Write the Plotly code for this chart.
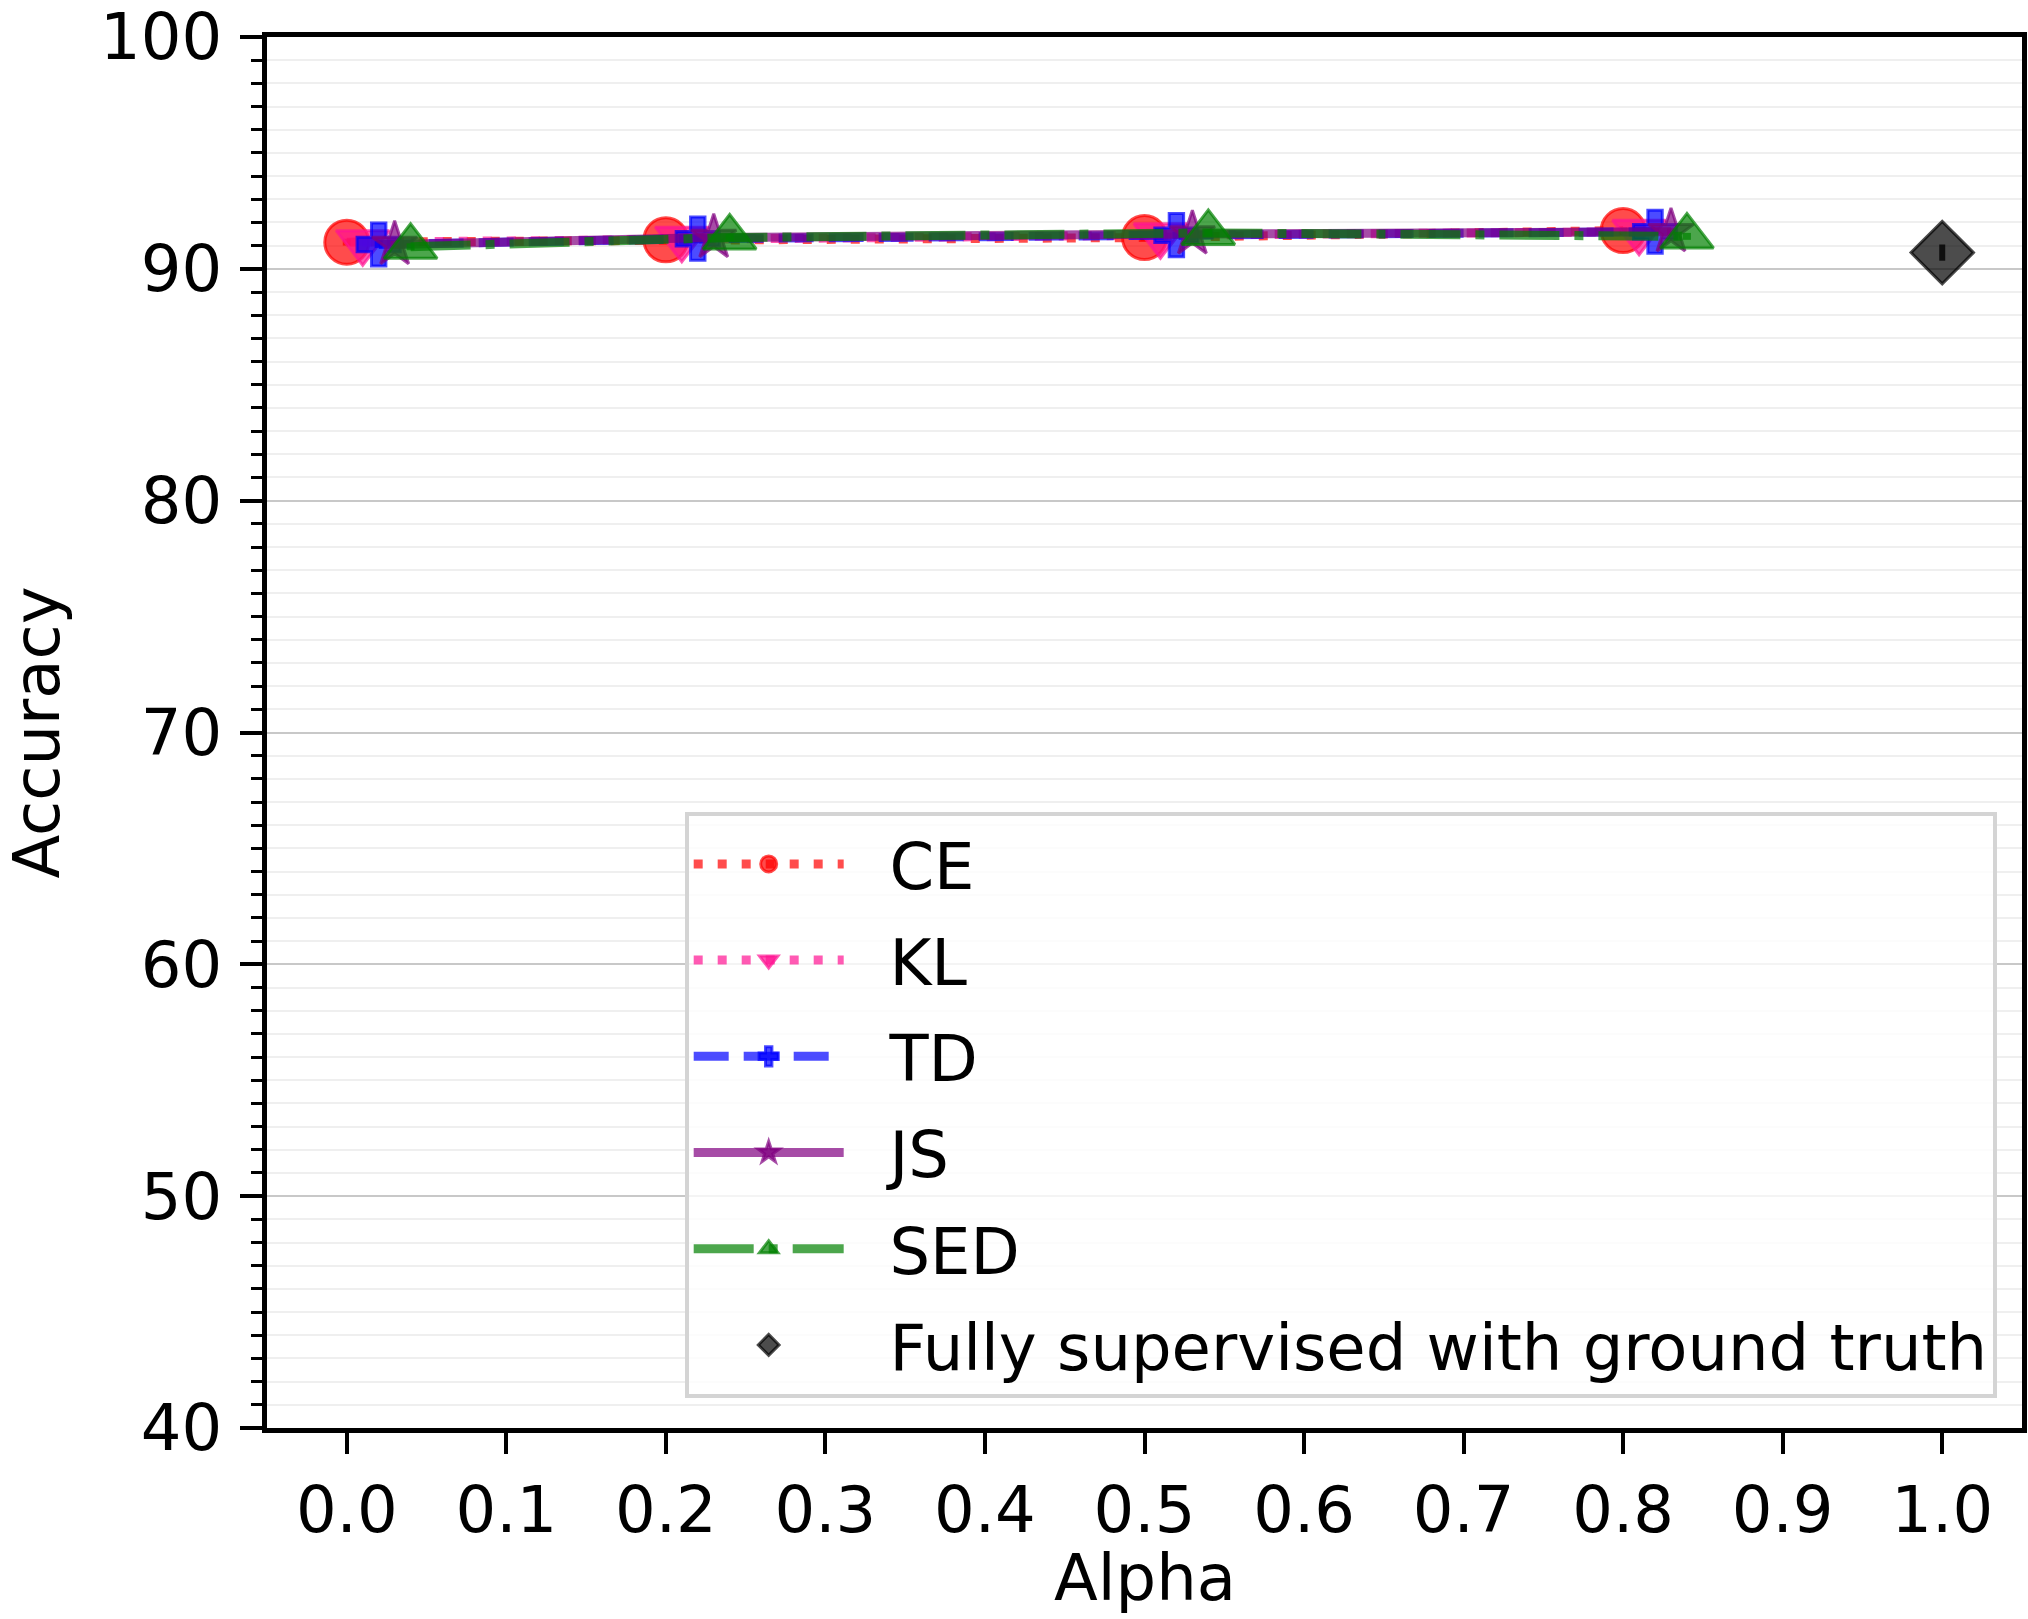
import plotly.graph_objects as go

# Accuracy vs. mixing coefficient alpha for each loss
alphas = [0.0, 0.2, 0.5, 0.8]
methods = ["CE", "KL", "TD", "JS", "SED"]
x_offsets = [0.0, 0.01, 0.02, 0.03, 0.04]

acc_ce = [91.15, 91.25, 91.35, 91.65]
acc_kl = [91.15, 91.30, 91.45, 91.60]
acc_td = [91.05, 91.30, 91.45, 91.60]
acc_js = [91.05, 91.35, 91.50, 91.60]
acc_sed = [90.95, 91.35, 91.55, 91.40]

std_ce = [0.15, 0.15, 0.15, 0.15]
std_kl = [0.15, 0.15, 0.15, 0.15]
std_td = [0.15, 0.15, 0.15, 0.15]
std_js = [0.15, 0.15, 0.15, 0.15]
std_sed = [0.15, 0.15, 0.15, 0.15]

full_label = "Fully supervised with ground truth"
full_alpha = [1.0]
full_acc = [90.7]
full_std = [0.35]

y_ticks = [40, 50, 60, 70, 80, 90, 100]
x_ticks = [0.0, 0.1, 0.2, 0.3, 0.4, 0.5, 0.6, 0.7, 0.8, 0.9, 1.0]

FONT = "DejaVu Sans"
FS = 64
PAD = "\u00a0\u00a0"  # spacing between legend key and label

styles = {
    "CE": dict(rgb=(255, 0, 0), symbol="circle", size=44, dash="9px,15px"),
    "KL": dict(rgb=(255, 20, 147), symbol="triangle-down", size=46, dash="9px,15px"),
    "TD": dict(rgb=(0, 0, 255), symbol="cross", size=36, dash="35px,15px"),
    "JS": dict(rgb=(128, 0, 128), symbol="star", size=34, dash="solid"),
    "SED": dict(rgb=(0, 128, 0), symbol="triangle-up", size=46, dash="60px,15px,9px,15px"),
}
accs = [acc_ce, acc_kl, acc_td, acc_js, acc_sed]
stds = [std_ce, std_kl, std_td, std_js, std_sed]


def rgba(rgb, a):
    return "rgba(%d,%d,%d,%.2f)" % (rgb[0], rgb[1], rgb[2], a)


fig = go.Figure()

for name, off, acc, sd in zip(methods, x_offsets, accs, stds):
    st = styles[name]
    fig.add_trace(go.Scatter(
        x=[a + off for a in alphas],
        y=acc,
        name=PAD + name,
        legendgroup=name,
        mode="lines+markers",
        line=dict(color=rgba(st["rgb"], 0.7), width=9, dash=st["dash"]),
        marker=dict(symbol=st["symbol"], size=st["size"],
                    color=rgba(st["rgb"], 0.7),
                    line=dict(color=rgba(st["rgb"], 0.7), width=3)),
        error_y=dict(type="data", array=sd, visible=True,
                     color=rgba(st["rgb"], 0.7), thickness=8, width=0),
    ))

fig.add_trace(go.Scatter(
    x=full_alpha,
    y=full_acc,
    name=PAD + full_label,
    legendgroup="full",
    mode="markers",
    marker=dict(symbol="diamond", size=48, color="rgba(0,0,0,0.7)",
                line=dict(color="rgba(0,0,0,0.7)", width=3)),
    error_y=dict(type="data", array=full_std, visible=True,
                 color="rgba(0,0,0,0.8)", thickness=6, width=0),
))

fig.update_layout(
    width=2028,
    height=1619,
    margin=dict(l=267, r=6, t=37, b=191, autoexpand=False),
    paper_bgcolor="white",
    plot_bgcolor="white",
    font=dict(family=FONT, size=FS, color="black"),
    legend=dict(
        x=0.238, y=0.443, xanchor="left", yanchor="top",
        bgcolor="rgba(255,255,255,0.8)",
        bordercolor="#d4d4d4", borderwidth=4,
        font=dict(family=FONT, size=FS, color="black"),
        tracegroupgap=10,
        itemwidth=150,
    ),
    showlegend=True,
    annotations=[dict(
        text="Alpha", xref="paper", yref="paper", x=0.5, y=-0.108,
        xanchor="center", yanchor="middle", showarrow=False,
        font=dict(family=FONT, size=FS, color="black"),
    )],
)

fig.update_xaxes(
    range=[-0.05, 1.05],
    tickmode="array",
    tickvals=x_ticks,
    ticktext=["%.1f" % v for v in x_ticks],
    ticks="outside", ticklen=21, tickwidth=3.5, tickcolor="black",
    showline=True, linecolor="black", linewidth=5, mirror=True,
    showgrid=False, zeroline=False,
    tickfont=dict(family=FONT, size=FS, color="black"),
    ticklabelstandoff=1,
    automargin=False,
)

fig.update_yaxes(
    range=[40, 100],
    tickmode="array",
    tickvals=y_ticks,
    ticks="outside", ticklen=22, tickwidth=3.5, tickcolor="black",
    showline=True, linecolor="black", linewidth=5, mirror=True,
    showgrid=True, gridcolor="#c8c8c8", gridwidth=1.5,
    zeroline=False,
    minor=dict(dtick=1, ticks="outside", ticklen=11, tickwidth=2.5, tickcolor="black",
               showgrid=True, gridcolor="#efefef", gridwidth=2),
    tickfont=dict(family=FONT, size=FS, color="black"),
    ticklabelstandoff=5,
    ticklabeloverflow="allow",
    title=dict(text="Accuracy", font=dict(family=FONT, size=FS, color="black"), standoff=38),
    automargin=False,
)

fig.write_html("out.html")
